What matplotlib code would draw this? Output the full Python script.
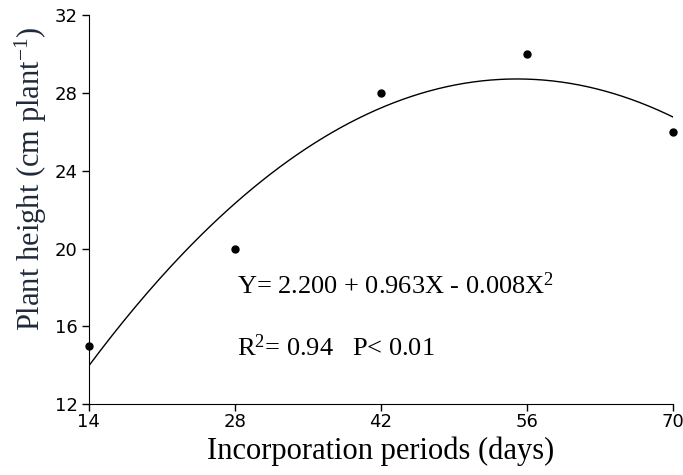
import matplotlib.pyplot as plt
import numpy as np

# incorporation period (days) and plant height (cm plant^-1)
days = [14, 28, 42, 56, 70]
height = [15, 20, 28, 30, 26]
xticks = [14, 28, 42, 56, 70]
yticks = [12, 16, 20, 24, 28, 32]


def draw_figure():
    fig = plt.figure(figsize=(6.83, 4.75), dpi=100)
    ax = fig.add_axes([0.130, 0.149, 0.855, 0.819])

    # quadratic fit through the points
    coef = np.polyfit(days, height, 2)
    xs = np.linspace(min(days), max(days), 200)
    ax.plot(xs, np.polyval(coef, xs), color="black", linewidth=1.0)
    ax.plot(days, height, "o", color="black", markersize=5, clip_on=False, zorder=3)

    ax.set_xlim(14, 70)
    ax.set_ylim(12, 32)
    ax.set_xticks(xticks)
    ax.set_yticks(yticks)
    ax.spines["top"].set_visible(False)
    ax.spines["right"].set_visible(False)
    ax.tick_params(direction="out", length=5, width=1, labelsize=13)
    ax.tick_params(axis="x", pad=1)
    ax.tick_params(axis="y", pad=3)
    for lab in ax.get_xticklabels() + ax.get_yticklabels():
        lab.set_fontfamily("Liberation Sans Narrow")

    serif = "Liberation Serif"
    ax.set_xlabel("Incorporation periods (days)", fontsize=22, family=serif, labelpad=4)
    ax.set_ylabel("Plant height (cm plant$^{-1}$)", fontsize=22, family=serif,
                  color="#1f2a3a")
    ax.yaxis.set_label_coords(-0.068, 0.58)

    ax.text(28.2, 18.1, "Y= 2.200 + 0.963X - 0.008X$^{2}$", fontsize=19, family=serif, va="center")
    ax.text(28.2, 14.9, "R$^{2}$= 0.94   P< 0.01", fontsize=19, family=serif, va="center")

    fig.savefig("out.png", dpi=100)


if __name__ == "__main__":
    plt.rcParams["mathtext.fontset"] = "custom"
    plt.rcParams["mathtext.rm"] = "Liberation Serif"
    plt.rcParams["mathtext.it"] = "Liberation Serif:italic"
    plt.rcParams["mathtext.default"] = "rm"
    draw_figure()
